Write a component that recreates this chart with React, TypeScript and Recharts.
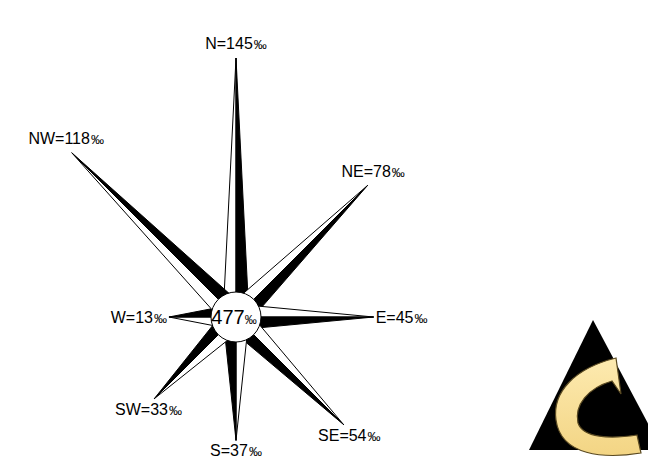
import React from "react";
import { RadarChart, Radar, PolarAngleAxis, PolarRadiusAxis } from "recharts";

// wind rose, share of hours per direction in per mille, calm in the middle
const directions = ["N", "NE", "E", "SE", "S", "SW", "W", "NW"];
const permille = [145, 78, 45, 54, 37, 33, 13, 118];
const calmPermille = 477;

const data = directions.map((dir, i) => ({ dir, value: permille[i] }));

const FONT = "'Liberation Sans', Arial, sans-serif";
const ARM_HALF = 13;
const HUB_R = 25;

const Label = ({ x, y, anchor, text }: any) => (
  <text
    x={x}
    y={y}
    textAnchor={anchor}
    fontFamily={FONT}
    fontSize={16}
    fill="#000"
  >
    {text}
    <tspan fontSize={13} dx={1}>‰</tspan>
  </text>
);

const StarShape = (props: any) => {
  const points = props.points || [];
  if (!points.length) return null;
  const p0 = points[0];
  const rad = (-p0.angle * Math.PI) / 180;
  const cx = p0.cx ?? p0.x - p0.radius * Math.cos(rad);
  const cy = p0.cy ?? p0.y - p0.radius * Math.sin(rad);

  const arms = points.map((pt: any) => {
    const dx = pt.x - cx;
    const dy = pt.y - cy;
    const len = Math.hypot(dx, dy) || 1;
    const ux = dx / len;
    const uy = dy / len;
    // clockwise side gets the black half
    const px = -uy;
    const py = ux;
    const a = `${cx + px * ARM_HALF},${cy + py * ARM_HALF}`;
    const b = `${cx - px * ARM_HALF},${cy - py * ARM_HALF}`;
    const c = `${cx},${cy}`;
    const t = `${pt.x},${pt.y}`;
    return { pt, ux, uy, black: `${c} ${a} ${t}`, white: `${c} ${b} ${t}` };
  });

  return (
    <g>
      {arms.map((arm: any, i: number) => (
        <g key={`arm-${i}`}>
          <polygon points={arm.white} fill="#fff" stroke="#000" strokeWidth={1} />
          <polygon points={arm.black} fill="#000" stroke="#000" strokeWidth={1} />
        </g>
      ))}
      <circle cx={cx} cy={cy} r={HUB_R} fill="#fff" stroke="#000" strokeWidth={1} />
      <text
        x={cx - 2}
        y={cy + 7}
        textAnchor="middle"
        fontFamily={FONT}
        fontSize={20}
        fill="#000"
      >
        {calmPermille}
        <tspan fontSize={12}>‰</tspan>
      </text>
      {arms.map((arm: any, i: number) => {
        const { pt, ux, uy } = arm;
        const text = `${pt.payload.dir}=${pt.payload.value}`;
        if (Math.abs(ux) > 0.9) {
          return (
            <Label
              key={`lbl-${i}`}
              x={pt.x + ux * 2}
              y={pt.y + 6}
              anchor={ux > 0 ? "start" : "end"}
              text={text}
            />
          );
        }
        return (
          <Label
            key={`lbl-${i}`}
            x={pt.x + ux * 8}
            y={uy < 0 ? pt.y - 9 : pt.y + 16}
            anchor="middle"
            text={text}
          />
        );
      })}
    </g>
  );
};

const Logo = () => (
  <svg width={648} height={476} style={{ position: "absolute", left: 0, top: 0 }}>
    <defs>
      <linearGradient id="cGold" x1="0" y1="0" x2="0" y2="1">
        <stop offset="0%" stopColor="#fdeab0" />
        <stop offset="100%" stopColor="#f3d584" />
      </linearGradient>
    </defs>
    <polygon points="593,320 529,450 662,450" fill="#000" />
    <path
      d="M 556 420 C 552 392, 575 368, 616 358 L 621 394 L 612 381 C 588 388, 574 405, 578 423 C 583 438, 610 439, 637 435 L 641 453 C 604 459, 561 456, 556 420 Z"
      fill="url(#cGold)"
      stroke="#5a4a22"
      strokeWidth={1.2}
    />
  </svg>
);

const App = () => (
  <div style={{ position: "fixed", left: 0, top: 0, width: 648, height: 476, background: "#fff" }}>
    <RadarChart
      width={648}
      height={476}
      cx={236}
      cy={317}
      innerRadius={-15}
      outerRadius={259}
      data={data}
      margin={{ top: 0, right: 0, bottom: 0, left: 0 }}
    >
      <PolarAngleAxis dataKey="dir" tick={false} axisLine={false} />
      <PolarRadiusAxis scale="sqrt" domain={[0, 145]} tick={false} axisLine={false} />
      <Radar dataKey="value" shape={StarShape} isAnimationActive={false} />
    </RadarChart>
    <Logo />
  </div>
);

export default App;
